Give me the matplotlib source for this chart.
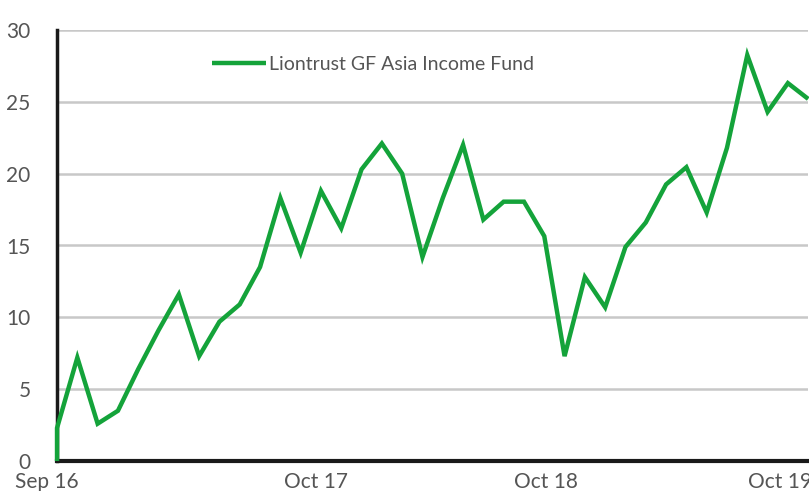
import matplotlib.pyplot as plt
import matplotlib.transforms as mtransforms

# monthly performance (%), first point is the start at zero
fund = [0.0, 2.3, 7.2, 2.6, 3.5, 6.4, 9.1, 11.6, 7.3, 9.7, 10.9, 13.5, 18.3, 14.5, 18.8,
        16.2, 20.3, 22.1, 20.0, 14.2, 18.3, 22.0, 16.8, 18.05, 18.05, 15.65, 7.3, 12.8,
        10.7, 14.9, 16.6, 19.25, 20.45, 17.3, 21.8, 28.25, 24.3, 26.3, 25.2]
month_idx = [0] + list(range(len(fund) - 1))
tick_pos = [0, 12.75, 24.1, 35.6]
tick_labels = ["Sep 16", "Oct 17", "Oct 18", "Oct 19"]

plt.rcParams['font.family'] = ['Lato', 'DejaVu Sans']
text_col = "#555555"

fig = plt.figure(figsize=(8.09, 4.91), dpi=100)
ax = fig.add_axes([0.0705, 0.061, 0.9285, 0.878])

ax.plot(month_idx, fund, color="#14a33a", linewidth=3.2, label="Liontrust GF Asia Income Fund",
        solid_joinstyle="miter", solid_capstyle="butt", clip_on=False, zorder=4)

ax.set_yticks(range(0, 31, 5))
ax.yaxis.grid(True, color="#c8c8c8", linewidth=1.8)
ax.set_axisbelow(True)
ax.set_xticks(tick_pos)
ax.set_xticklabels(tick_labels)
ax.set_xlim(0, month_idx[-1])
ax.set_ylim(0, 30)
ax.tick_params(length=0, labelsize=15, colors=text_col)
ax.tick_params(axis="y", pad=19)
ax.tick_params(axis="x", pad=8)

# first date label sits a little left of the axis start
first = ax.get_xticklabels()[0]
first.set_transform(first.get_transform() +
                    mtransforms.ScaledTranslation(-10 / 100, 0, fig.dpi_scale_trans))

for s in ["top", "right"]:
    ax.spines[s].set_visible(False)
ax.spines["left"].set_linewidth(2.5)
ax.spines["bottom"].set_linewidth(3)
ax.spines["left"].set_color("#1a1a1a")
ax.spines["bottom"].set_color("#1a1a1a")

leg = ax.legend(loc="upper left", bbox_to_anchor=(0.206, 0.939), frameon=False,
                fontsize=14, handlelength=2.8, handletextpad=0.15,
                borderpad=0, borderaxespad=0)
for t in leg.get_texts():
    t.set_color(text_col)

fig.savefig("out.png", dpi=100)
